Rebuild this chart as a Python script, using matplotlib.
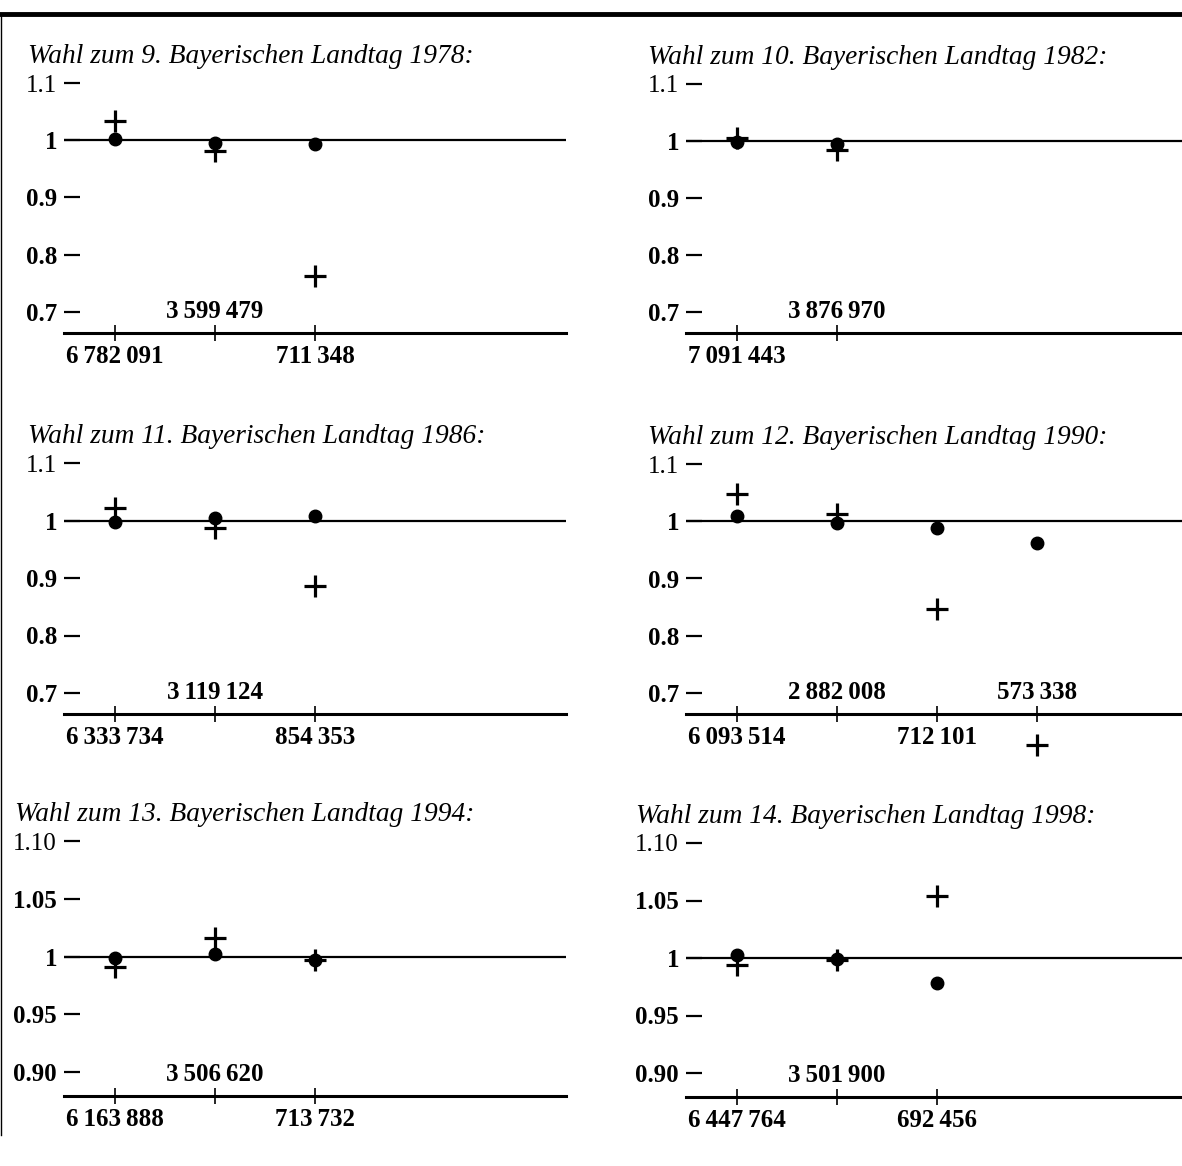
import matplotlib
matplotlib.use("Agg")
import matplotlib.pyplot as plt
from matplotlib.lines import Line2D

W, H = 1182, 1166
plt.rcParams['font.family'] = ['Liberation Serif', 'DejaVu Serif']

# Titel der sechs Wahlen
titel = [
    "Wahl zum 9. Bayerischen Landtag 1978:",
    "Wahl zum 10. Bayerischen Landtag 1982:",
    "Wahl zum 11. Bayerischen Landtag 1986:",
    "Wahl zum 12. Bayerischen Landtag 1990:",
    "Wahl zum 13. Bayerischen Landtag 1994:",
    "Wahl zum 14. Bayerischen Landtag 1998:",
]

# Stimmen (Beschriftung der x-Achse)
stimmen_1978 = [6782091, 3599479, 711348]
stimmen_1982 = [7091443, 3876970]
stimmen_1986 = [6333734, 3119124, 854353]
stimmen_1990 = [6093514, 2882008, 712101, 573338]
stimmen_1994 = [6163888, 3506620, 713732]
stimmen_1998 = [6447764, 3501900, 692456]

# Punkte (gefuellte Kreise)
punkte_1978 = [1.002, 0.996, 0.993]
punkte_1982 = [0.999, 0.995]
punkte_1986 = [0.998, 1.005, 1.007]
punkte_1990 = [1.009, 0.997, 0.988, 0.962]
punkte_1994 = [0.999, 1.002, 0.997]
punkte_1998 = [1.003, 0.999, 0.978]

# Kreuze
kreuze_1978 = [1.033, 0.981, 0.763]
kreuze_1982 = [1.006, 0.984]
kreuze_1986 = [1.022, 0.987, 0.886]
kreuze_1990 = [1.047, 1.012, 0.847, 0.609]
kreuze_1994 = [0.991, 1.016, 0.997]
kreuze_1998 = [0.994, 0.998, 1.054]

# y-Achsen
yticks_a = [1.1, 1.0, 0.9, 0.8, 0.7]
ylabels_a = ["1.1", "1", "0.9", "0.8", "0.7"]
yticks_b = [1.10, 1.05, 1.0, 0.95, 0.90]
ylabels_b = ["1.10", "1.05", "1", "0.95", "0.90"]

stimmen = [stimmen_1978, stimmen_1982, stimmen_1986, stimmen_1990, stimmen_1994, stimmen_1998]
punkte = [punkte_1978, punkte_1982, punkte_1986, punkte_1990, punkte_1994, punkte_1998]
kreuze = [kreuze_1978, kreuze_1982, kreuze_1986, kreuze_1990, kreuze_1994, kreuze_1998]
yticks = [yticks_a] * 4 + [yticks_b] * 2
ylabels = [ylabels_a] * 4 + [ylabels_b] * 2

# Lage der Achsen in Pixeln: links, oben, hoehe, titel-x
boxen = [(64, 83, 250, 28), (686, 84, 249, 648),
         (64, 463, 251, 28), (686, 464, 250, 648),
         (64, 841, 255, 15), (686, 843, 254, 636)]
breite = 502


def fmt(n):
    return f"{n:,}".replace(",", "\u2009")


fig = plt.figure(figsize=(W / 100, H / 100), dpi=100)

for i in range(6):
    links, oben, hoehe, tx = boxen[i]
    ax = fig.add_axes([links / W, 1 - (oben + hoehe) / H, breite / W, hoehe / H])
    yt = yticks[i]
    schritt = yt[0] - yt[1]
    # obere Marke am oberen Rand, Achse etwa 21-24 px unter der untersten Marke
    abstand = 21 if i < 4 else 24
    px_pro = (hoehe - abstand) / (len(yt) - 1)
    unten = yt[-1] - abstand / px_pro * schritt
    ax.set_ylim(unten, yt[0])
    ax.set_xlim(0.49, 0.49 + breite / 100)

    x = list(range(1, len(stimmen[i]) + 1))
    ax.axhline(1, color="black", lw=1.6, zorder=1)
    ax.plot(x, punkte[i], "o", color="black", ms=9, clip_on=False, zorder=3)
    ax.plot(x, kreuze[i], "+", color="black", ms=16, mew=2.3, clip_on=False, zorder=3)

    for s in ["top", "right", "left"]:
        ax.spines[s].set_visible(False)
    ax.spines["bottom"].set_linewidth(2.2)

    ax.set_yticks(yt)
    ax.set_yticklabels(ylabels[i])
    ax.tick_params(axis="y", direction="in", length=11.5, width=1.6, pad=5, labelsize=18)
    for j, lab in enumerate(ax.get_yticklabels()):
        lab.set_fontweight("normal" if j == 0 else "bold")

    ax.set_xticks(x)
    ax.set_xticklabels([])
    ax.tick_params(axis="x", direction="inout", length=12, width=1.2)

    # Stimmenzahlen abwechselnd unter und ueber der Achse
    for j, n in enumerate(stimmen[i]):
        dy = -30 if j % 2 == 0 else 15
        ax.annotate(fmt(n), xy=(x[j], 0), xycoords=("data", "axes fraction"),
                    xytext=(0, dy * 0.72), textcoords="offset points",
                    ha="center", va="baseline", fontsize=18, fontweight="bold")

    fig.text(tx / W, 1 - (oben - 20) / H, titel[i], fontsize=19.7, style="italic",
             ha="left", va="baseline")

# Rahmen oben und links
fig.add_artist(Line2D([0, 1], [1 - 14 / H, 1 - 14 / H], color="black", lw=3.5))
fig.add_artist(Line2D([1 / W, 1 / W], [1 - 14 / H, 1 - 1135 / H], color="black", lw=1))

fig.savefig("out.png", dpi=100)
